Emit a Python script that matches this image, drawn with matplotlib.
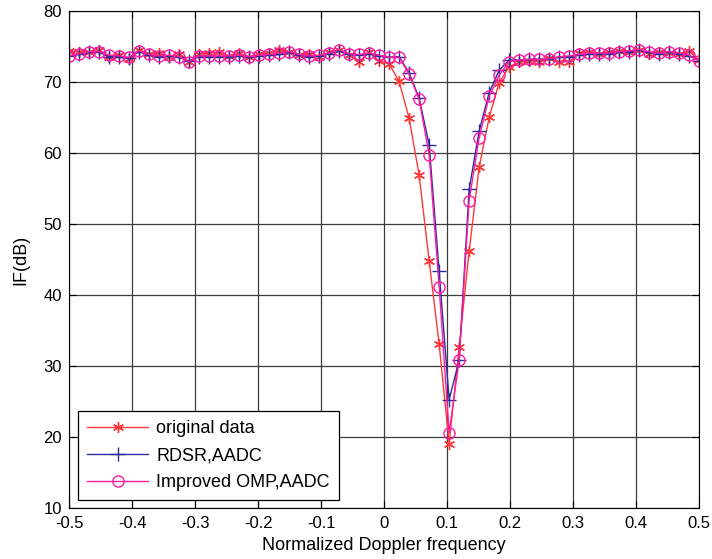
import numpy as np
import matplotlib
matplotlib.use("Agg")
import matplotlib.pyplot as plt

plt.rcParams['font.family'] = ['Liberation Sans', 'DejaVu Sans']

# Data (64 frequency bins from -0.5 to 0.5)
freq = np.linspace(-0.5, 0.5, 64)

original = [74.4, 74.2, 74.2, 74.5, 73.6, 73.8, 73.3, 74.6, 74.0, 74.1,
            73.5, 73.9, 72.8, 73.9, 74.1, 74.2, 73.7, 74.1, 73.5, 74.0,
            74.1, 74.6, 74.2, 73.8, 73.9, 73.6, 74.2, 74.5, 73.8, 72.9,
            74.2, 73.0, 72.6, 70.1, 64.9, 56.9, 44.85, 33.1, 19.1, 32.7,
            46.2, 58.0, 65.05, 69.9, 72.2, 72.8, 73.0, 72.9, 73.4, 72.8,
            72.9, 74.1, 74.3, 74.0, 74.2, 74.4, 74.2, 74.5, 74.0, 74.3,
            74.1, 74.0, 74.4, 73.1]

rdsr = [73.7, 73.9, 74.2, 74.2, 73.6, 73.6, 73.4, 74.3, 73.8, 73.6,
        73.7, 73.5, 73.0, 73.6, 73.6, 73.6, 73.6, 73.7, 73.5, 73.7,
        73.8, 73.9, 74.2, 73.8, 73.6, 73.7, 74.0, 74.4, 73.9, 73.8,
        74.0, 73.7, 73.5, 73.6, 71.3, 67.75, 61.2, 43.4, 25.3, 30.8,
        54.9, 63.1, 68.5, 71.7, 73.1, 73.1, 73.2, 73.2, 73.3, 73.5,
        73.6, 73.8, 74.0, 74.0, 74.0, 74.2, 74.3, 74.5, 74.2, 74.0,
        74.2, 74.0, 73.7, 73.0]

omp = [73.7, 74.0, 74.3, 74.3, 73.8, 73.7, 73.5, 74.4, 73.9, 73.7,
       73.8, 73.6, 72.9, 73.7, 73.7, 73.7, 73.7, 73.8, 73.6, 73.8,
       73.9, 74.1, 74.3, 73.9, 73.7, 73.8, 74.1, 74.6, 74.0, 73.9,
       74.1, 73.8, 73.5, 73.5, 71.1, 67.6, 59.8, 41.2, 20.6, 30.8,
       53.3, 62.2, 68.0, 71.0, 72.9, 73.1, 73.2, 73.2, 73.3, 73.6,
       73.7, 73.9, 74.1, 74.1, 74.1, 74.3, 74.4, 74.6, 74.3, 74.1,
       74.3, 74.1, 73.8, 73.0]

fig = plt.figure(figsize=(7.12, 5.59), dpi=100)
ax = fig.add_axes([0.097, 0.091, 0.885, 0.889])

# MATLAB-style asterisk marker
ax.plot(freq, original, color='#ff3838', marker=(6, 2, 0), markersize=8,
        markeredgewidth=1, linewidth=1, label='original data')
ax.plot(freq, rdsr, color='#2b2b9c', marker='+', markersize=10,
        markeredgewidth=1, linewidth=1, label='RDSR,AADC')
ax.plot(freq, omp, color='#ff1aa0', marker='o', markersize=8,
        markerfacecolor='none', markeredgewidth=1, linewidth=1,
        label='Improved OMP,AADC')

ax.set_xlim(-0.5, 0.5)
ax.set_ylim(10, 80)
ax.set_xticks(np.arange(-0.5, 0.51, 0.1))
ax.set_xticklabels(['-0.5', '-0.4', '-0.3', '-0.2', '-0.1', '0',
                    '0.1', '0.2', '0.3', '0.4', '0.5'])
ax.set_yticks(range(10, 81, 10))
ax.tick_params(direction='in', labelsize=12, length=5, top=True, right=True)
ax.tick_params(axis='x', pad=6)
ax.tick_params(axis='y', pad=5)
ax.grid(True, color='#3c3c3c', linewidth=0.9)
ax.set_axisbelow(True)

ax.set_xlabel('Normalized Doppler frequency', fontsize=13, labelpad=4)
ax.set_ylabel('IF(dB)', fontsize=13, labelpad=10)

leg = ax.legend(loc='lower left', bbox_to_anchor=(0.014, 0.016),
                borderaxespad=0, fontsize=13, handlelength=3.4,
                handletextpad=0.45, numpoints=1, fancybox=False,
                framealpha=1, edgecolor='black', borderpad=0.5,
                labelspacing=0.55)
leg.get_frame().set_linewidth(0.9)

fig.savefig('out.png', dpi=100)
